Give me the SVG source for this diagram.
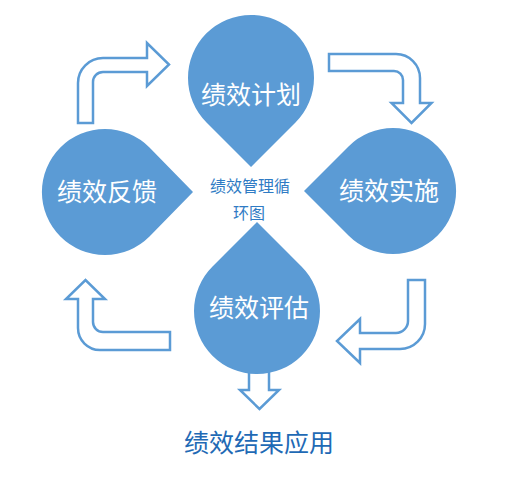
<svg xmlns="http://www.w3.org/2000/svg" width="517" height="494" viewBox="0 0 517 494">
<style>
.drop{fill:#5b9bd5}
.arrow{fill:#ffffff;stroke:#5b9bd5;stroke-width:2.5;stroke-linejoin:miter}
.lbl{font-family:"Noto Sans CJK SC","Noto Sans",sans-serif;font-size:25px;fill:#ffffff;text-anchor:middle}
.mid{font-family:"Noto Sans CJK SC","Noto Sans",sans-serif;font-size:16px;fill:#2f7bc4;text-anchor:middle}
.out{font-family:"Noto Sans CJK SC","Noto Sans",sans-serif;font-size:25px;fill:#1f6ab5;text-anchor:middle}
</style>
<rect width="517" height="494" fill="#ffffff"/>
<g id="connectors">
<path class="arrow" d="M78,123 L78,83 A25,25 0 0 1 103,58 L147,58 L147,43 L169,64.5 L147,86 L147,72 L103,72 A10,10 0 0 0 93,82 L93,123 Z"/>
<path class="arrow" d="M329,54 L396,54 A24,24 0 0 1 420,78 L420,103 L431.5,103 L411.5,123 L391.5,103 L403,103 L403,80 A9,9 0 0 0 394,71 L329,71 Z"/>
<path class="arrow" d="M408,280 L425,280 L425,324 A25,25 0 0 1 400,349 L360,349 L360,363 L337,341 L360,319 L360,333 L396,333 A12,12 0 0 0 408,321 Z"/>
<path class="arrow" d="M170,332 L170,350 L100,350 A22,22 0 0 1 78,328 L78,299 L66,299 L85.5,280 L105,299 L93,299 L93,322 A10,10 0 0 0 103,332 Z"/>
<path class="arrow" d="M249,360 L249,390 L240,390 L259.5,409 L279,390 L269,390 L269,360 Z"/>
</g>
<g id="node-plan">
<path class="drop" d="M251,167 L206.5,122.5 A63,63 0 1 1 295.5,122.5 Z"/>
<text class="lbl" x="251" y="104">绩效计划</text>
</g>
<g id="node-implement">
<path class="drop" d="M304,191 L348.5,146.5 A63,63 0 1 1 348.5,235.5 Z"/>
<text class="lbl" x="389" y="200">绩效实施</text>
</g>
<g id="node-feedback">
<path class="drop" d="M193,192 L149.5,236.5 A63,63 0 1 1 149.5,147.5 Z"/>
<text class="lbl" x="107" y="201">绩效反馈</text>
</g>
<g id="node-evaluate">
<path class="drop" d="M257,222 L301.5,266.5 A63,63 0 1 1 212.5,266.5 Z"/>
<text class="lbl" x="259" y="317">绩效评估</text>
</g>
<g id="center-title">
<text class="mid" x="250" y="192">绩效管理循</text>
<text class="mid" x="249" y="219">环图</text>
</g>
<g id="result">
<text class="out" x="259" y="452">绩效结果应用</text>
</g>
</svg>
